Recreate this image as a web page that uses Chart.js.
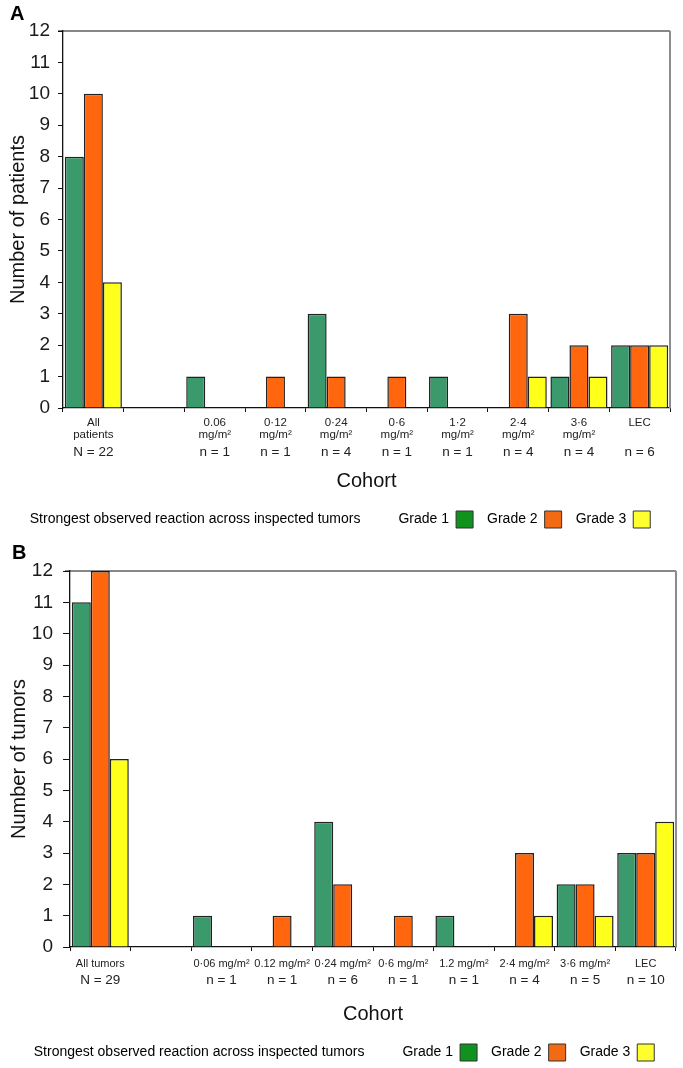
<!DOCTYPE html>
<html>
<head>
<meta charset="utf-8">
<script src="https://cdn.jsdelivr.net/npm/chart.js@4"></script>
<style>
    html, body { margin: 0; padding: 0; background: #fff; overflow: hidden; }
    canvas { position: absolute; left: 0; }
</style>
</head>
<body>
<canvas id="CHART_A" width="683" height="538" style="top:0px"></canvas>
<canvas id="CHART_B" width="683" height="538" style="top:533px"></canvas>
<script>
"use strict"

// panel A: patients
const cohortsA = [["All", "patients"], "", ["0.06", "mg/m²"], ["0·12", "mg/m²"], ["0·24", "mg/m²"],
    ["0·6", "mg/m²"], ["1·2", "mg/m²"], ["2·4", "mg/m²"], ["3·6", "mg/m²"], "LEC"]
const countsA = ["N = 22", "", "n = 1", "n = 1", "n = 4", "n = 1", "n = 1", "n = 4", "n = 4", "n = 6"]
const grade1A = [8, null, 1, null, 3, null, 1, null, 1, 2]
const grade2A = [10, null, null, 1, 1, 1, null, 3, 2, 2]
const grade3A = [4, null, null, null, null, null, null, 1, 1, 2]

// panel B: tumors
const cohortsB = ["All tumors", "", "0·06 mg/m²", "0.12 mg/m²", "0·24 mg/m²", "0·6 mg/m²",
    "1.2 mg/m²", "2·4 mg/m²", "3·6 mg/m²", "LEC"]
const countsB = ["N = 29", "", "n = 1", "n = 1", "n = 6", "n = 1", "n = 1", "n = 4", "n = 5", "n = 10"]
const grade1B = [11, null, 1, null, 4, null, 1, null, 2, 3]
const grade2B = [12, null, null, 1, 2, 1, null, 3, 2, 3]
const grade3B = [6, null, null, null, null, null, null, 1, 1, 4]

const gradeNames = ["Grade 1", "Grade 2", "Grade 3"]
const caption = "Strongest observed reaction across inspected tumors"
const yTicks = [0, 12]

const barColors = ["#3b9a6b", "#ff660d", "#ffff1c"]
const boxColors = ["#10921f", "#f26a14", "#ffff30"]
const SANS = "'Liberation Sans', Arial, sans-serif"

const frame = {
    id: "frame",
    afterDatasetsDraw(chart) {
        const { ctx, chartArea: a } = chart
        ctx.save()
        ctx.strokeStyle = "#111"
        ctx.lineWidth = 1.2
        ctx.beginPath(); ctx.moveTo(a.left - 5, a.top); ctx.lineTo(a.right, a.top); ctx.stroke()
        ctx.strokeStyle = "#8c8c8c"
        ctx.lineWidth = 2
        ctx.beginPath(); ctx.moveTo(a.right, a.top); ctx.lineTo(a.right, a.bottom); ctx.stroke()
        ctx.restore()
    }
}

function makeChart(canvas, p) {
    const series = [p.g1, p.g2, p.g3]
    return new Chart(canvas, {
        type: "bar",
        data: {
            labels: p.cohorts,
            datasets: series.map((s, i) => ({
                label: gradeNames[i],
                data: s,
                backgroundColor: barColors[i],
                borderColor: "#222",
                borderWidth: 1.5,
                barPercentage: 1,
                categoryPercentage: 0.94,
            })),
        },
        options: {
            animation: false,
            responsive: false,
            layout: { padding: { left: p.padLeft, right: p.padRight, top: 0, bottom: 0 } },
            plugins: {
                tooltip: { enabled: false },
                title: {
                    display: true, text: p.letter, align: "start", color: "#000",
                    font: { family: SANS, size: 20, weight: "bold", lineHeight: 1.2 },
                    padding: p.titlePad,
                },
                legend: {
                    position: "bottom",
                    rtl: true,
                    textDirection: "ltr",
                    labels: {
                        color: "#1a1a1a",
                        font: { family: SANS, size: 14 },
                        boxWidth: 17, boxHeight: 17,
                        padding: 14,
                        generateLabels: chart => [
                            ...chart.data.datasets.map((d, i) => ({
                                text: d.label, fillStyle: boxColors[i], strokeStyle: "#333",
                                lineWidth: 1, datasetIndex: i,
                            })).reverse(),
                            { text: caption, fillStyle: "rgba(0,0,0,0)", strokeStyle: "rgba(0,0,0,0)", lineWidth: 0 },
                        ],
                    },
                },
            },
            scales: {
                x: {
                    offset: true,
                    grid: { offset: true, drawOnChartArea: false, color: "#111", tickLength: 4 },
                    border: { color: "#111", width: 1.3 },
                    ticks: {
                        color: "#222", padding: p.xPad, maxRotation: 0, autoSkip: false,
                        font: { family: SANS, size: p.xFont, lineHeight: p.xLine },
                    },
                    afterFit: s => { s.height = p.xHeight },
                },
                x2: {
                    type: "category",
                    position: "bottom",
                    labels: p.counts,
                    offset: true,
                    grid: { display: false, drawTicks: false },
                    border: { display: false },
                    ticks: {
                        color: "#222", padding: p.nPad, maxRotation: 0, autoSkip: false,
                        font: { family: SANS, size: 13.5, lineHeight: 1.2 },
                    },
                    title: {
                        display: true, text: "Cohort", color: "#111",
                        font: { family: SANS, size: 20, lineHeight: 1.2 },
                        padding: { top: 0, bottom: 4 },
                    },
                    afterFit: s => { s.height = p.x2Height },
                },
                y: {
                    min: yTicks[0], max: yTicks[1],
                    grid: { drawOnChartArea: false, color: "#111", tickLength: p.yTick },
                    border: { color: "#111", width: 1.3 },
                    ticks: {
                        stepSize: 1, color: "#1a1a1a", padding: p.yPad,
                        font: { family: SANS, size: 19 },
                    },
                    title: {
                        display: true, text: p.yTitle, color: "#111",
                        font: { family: SANS, size: 20, lineHeight: 1.0 },
                        padding: { top: p.yTitlePad, bottom: 0 },
                    },
                    afterFit: s => { s.width = p.yWidth },
                },
            },
        },
        plugins: [frame],
    })
}

makeChart(CHART_A, {
    letter: "A", cohorts: cohortsA, counts: countsA, g1: grade1A, g2: grade2A, g3: grade3A,
    yTitle: "Number of patients",
    padLeft: 10, padRight: 13, titlePad: { top: 2, bottom: 5 },
    yWidth: 53, yTick: 5, yPad: 8, yTitlePad: -2,
    xFont: 11.5, xLine: 1.05, xPad: 5, xHeight: 33, nPad: 3.5, x2Height: 56,
})

makeChart(CHART_B, {
    letter: "B", cohorts: cohortsB, counts: countsB, g1: grade1B, g2: grade2B, g3: grade3B,
    yTitle: "Number of tumors",
    padLeft: 12, padRight: 7, titlePad: { top: 8.5, bottom: 5.5 },
    yWidth: 58, yTick: 7, yPad: 10, yTitlePad: -3,
    xFont: 11, xLine: 1.2, xPad: 6, xHeight: 24, nPad: 1, x2Height: 59,
})
</script>
</body>
</html>
